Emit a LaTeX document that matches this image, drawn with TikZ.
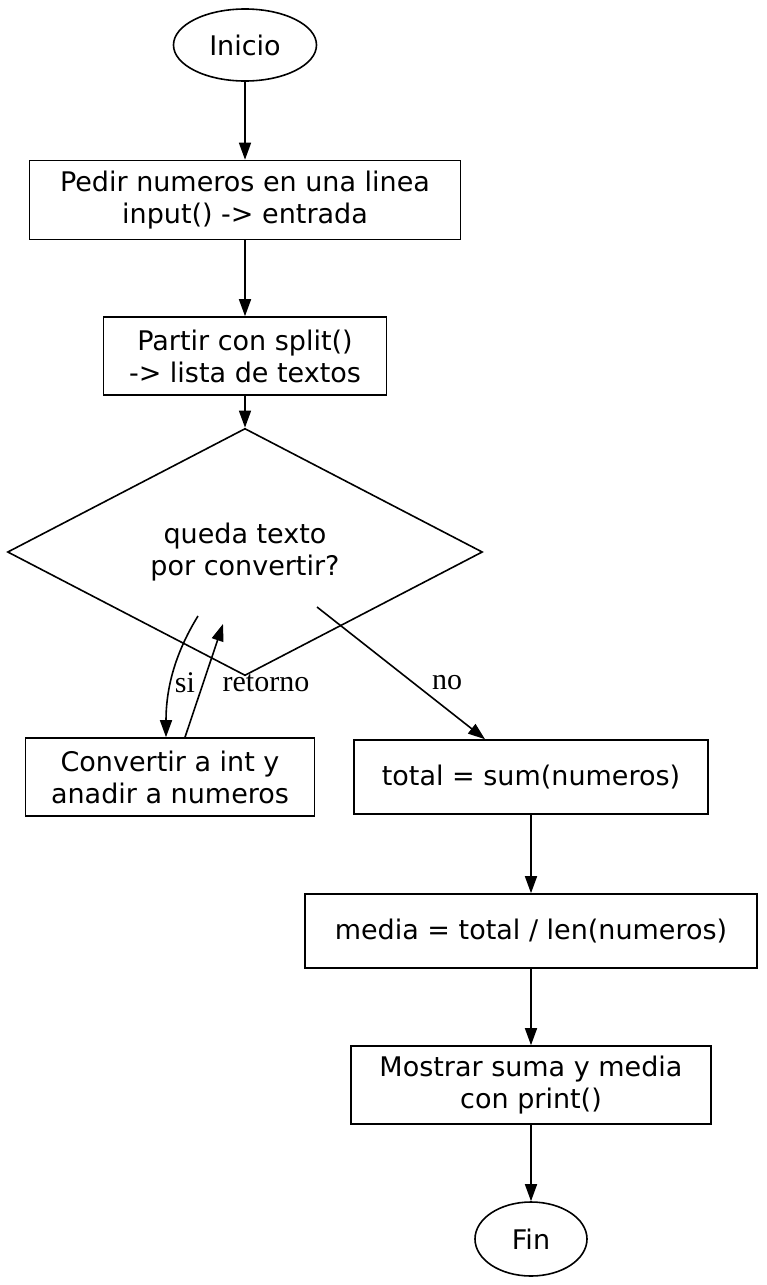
\documentclass[tikz,border=0pt]{standalone}
\usepackage{fontspec}
\setmainfont{DejaVu Sans}
\newfontfamily\lblfont{Liberation Serif}
\usetikzlibrary{shapes.geometric,arrows.meta}
\begin{document}
\begin{tikzpicture}[x=1pt,y=-1pt,>={Triangle[length=17pt,width=12pt]},every path/.style={line width=1.6pt}]
    \tikzstyle{every node}=[inner sep=0pt,font=\fontsize{27}{32}\selectfont,align=center];
    \tikzstyle{proc}=[draw,rectangle];
    \tikzstyle{term}=[draw,ellipse];
    \tikzstyle{lbl}=[font=\lblfont\fontsize{30}{32}\selectfont];
    \useasboundingbox (0,0) rectangle (766,1285);
    \node[term,minimum width=143pt,minimum height=72pt] at (245, 45) (inicio) {Inicio};
    \node[proc,minimum width=431pt,minimum height=79pt] at (245, 200) (pedir) {Pedir numeros en una linea\\input() -> entrada};
    \node[proc,minimum width=283pt,minimum height=78pt] at (245, 356) (partir) {Partir con split()\\-> lista de textos};
    \node[draw,diamond,minimum width=475pt,minimum height=158pt] at (245, 552) (queda) {queda texto\\por convertir?};
    \node[proc,minimum width=289pt,minimum height=78pt] at (170, 777) (conv) {Convertir a int y\\anadir a numeros};
    \node[proc,minimum width=354pt,minimum height=74pt] at (531, 777) (total) {total = sum(numeros)};
    \node[proc,minimum width=452pt,minimum height=74pt] at (531, 931) (media) {media = total / len(numeros)};
    \node[proc,minimum width=360pt,minimum height=78pt] at (531, 1085) (mostrar) {Mostrar suma y media\\con print()};
    \node[term,minimum width=112pt,minimum height=74pt] at (531, 1239) (fin) {Fin};
    \coordinate (qsw) at (198,616);
    \coordinate (qin) at (223,624);
    \coordinate (qse) at (317,607);
    \draw[->] (inicio) -- (pedir);
    \draw[->] (pedir) -- (partir);
    \draw[->] (partir) -- (queda);
    \draw[->] (qsw) .. controls (174,655) and (166,690) .. (conv.north -| 166,0);
    \draw[->] (conv.north -| 185,0) -- (qin);
    \draw[->] (qse) -- (total.north -| 485,0);
    \node[lbl] at (185,683) (lsi) {si};
    \node[lbl] at (266,683) (lret) {retorno};
    \node[lbl] at (447,683) (lno) {no};
    \draw[->] (total) -- (media);
    \draw[->] (media) -- (mostrar);
    \draw[->] (mostrar) -- (fin);
\end{tikzpicture}
\end{document}
